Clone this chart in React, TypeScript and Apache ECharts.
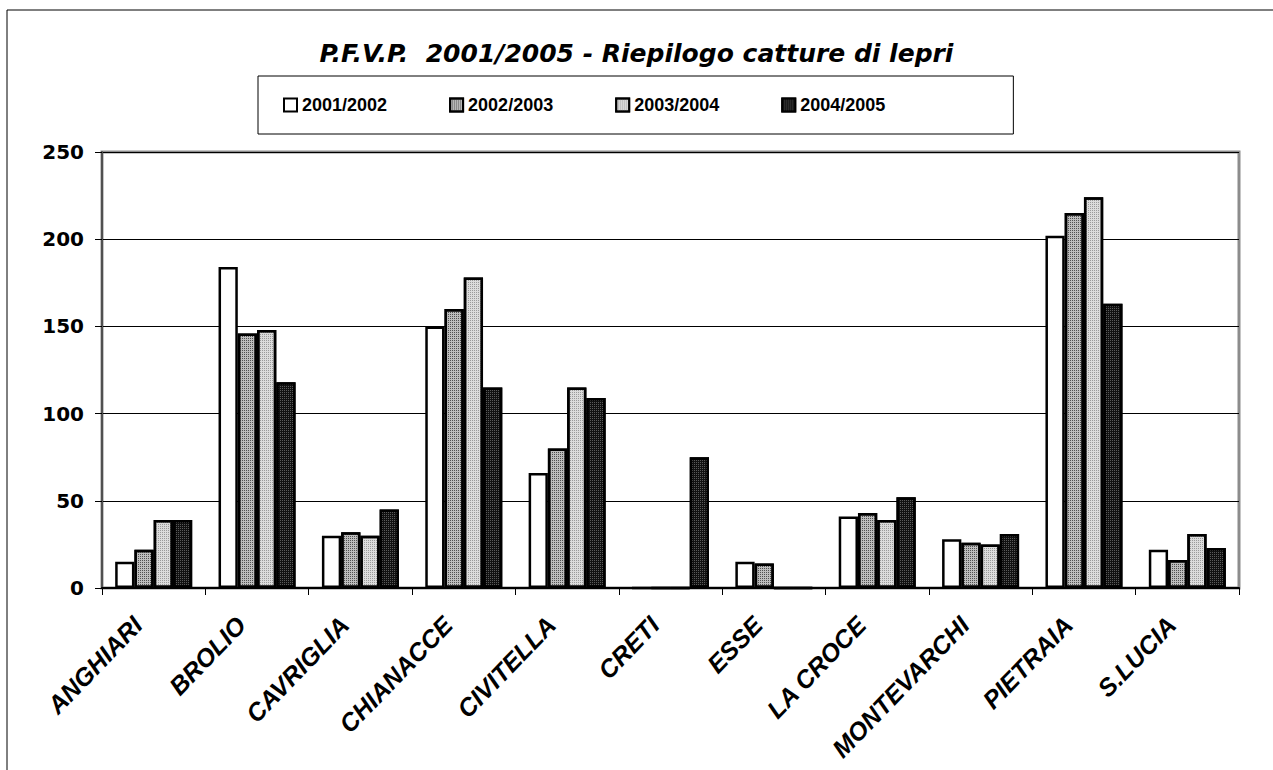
import React, { useEffect, useRef } from "react";
import * as echarts from "echarts";

const categories = [
  "ANGHIARI",
  "BROLIO",
  "CAVRIGLIA",
  "CHIANACCE",
  "CIVITELLA",
  "CRETI",
  "ESSE",
  "LA CROCE",
  "MONTEVARCHI",
  "PIETRAIA",
  "S.LUCIA",
];
const seriesNames = ["2001/2002", "2002/2003", "2003/2004", "2004/2005"];
const v2001 = [15, 184, 30, 150, 66, 0, 15, 41, 28, 202, 22];
const v2002 = [22, 146, 32, 160, 80, 0, 14, 43, 26, 215, 16];
const v2003 = [39, 148, 30, 178, 115, 0, 0, 39, 25, 224, 31];
const v2004 = [39, 118, 45, 115, 109, 75, 0, 52, 31, 163, 23];
const yTicks = [0, 50, 100, 150, 200, 250];

const titleText = "P.F.V.P.  2001/2005 - Riepilogo catture di lepri";
const FONT = "'Liberation Sans', Arial, sans-serif";
const WIDE = "'DejaVu Sans', 'Liberation Sans', sans-serif";
const fills = ["#ffffff", "#bdbdbd", "#dcdcdc", "#111111"];
const dots = [null, "#505050", "#9a9a9a", "#5a5a5a"];

export default function App() {
  const ref = useRef<HTMLDivElement>(null);
  useEffect(() => {
    if (!ref.current) return;
    const chart = echarts.init(ref.current, null, { renderer: "svg" });
    const values = [v2001, v2002, v2003, v2004];
    chart.setOption({
      animation: false,
      backgroundColor: "#ffffff",
      textStyle: { fontFamily: FONT },
      title: {
        text: titleText,
        left: "center",
        top: 36,
        textStyle: {
          fontFamily: WIDE,
          fontSize: 25,
          fontWeight: "bold",
          fontStyle: "italic",
          color: "#000",
        },
      },
      legend: {
        left: 258,
        top: 76,
        orient: "horizontal",
        padding: [20, 128, 20, 25],
        itemGap: 62,
        itemWidth: 13,
        itemHeight: 13,
        borderColor: "#000",
        borderWidth: 1,
        icon: "rect",
        textStyle: {
          fontFamily: FONT,
          fontSize: 18,
          fontWeight: "bold",
          color: "#000",
        },
        data: seriesNames,
      },
      graphic: [
        {
          type: "rect",
          silent: true,
          z: -1,
          shape: { x: 7, y: 10, width: 1300, height: 800 },
          style: { fill: "none", stroke: "#000", lineWidth: 1 },
        },
      ],
      grid: {
        left: 102,
        top: 152,
        width: 1137,
        height: 436,
        show: true,
        borderColor: "#8c8c8c",
        borderWidth: 3,
        backgroundColor: "transparent",
      },
      xAxis: {
        type: "category",
        data: categories,
        boundaryGap: true,
        axisLine: { show: true, lineStyle: { color: "#000", width: 2 } },
        axisTick: {
          show: true,
          alignWithLabel: false,
          length: 7,
          lineStyle: { color: "#000", width: 1 },
        },
        axisLabel: {
          interval: 0,
          rotate: 46,
          margin: 16,
          padding: [0, 23, 0, 0],
          fontFamily: FONT,
          fontSize: 25,
          fontWeight: "bold",
          fontStyle: "italic",
          color: "#000",
        },
        splitLine: { show: false },
      },
      yAxis: {
        type: "value",
        min: yTicks[0],
        max: yTicks[yTicks.length - 1],
        interval: 50,
        axisLine: { show: true, lineStyle: { color: "#505050", width: 2 } },
        axisTick: {
          show: true,
          inside: false,
          length: 7,
          lineStyle: { color: "#000", width: 1 },
        },
        axisLabel: {
          margin: 18,
          fontFamily: WIDE,
          fontSize: 20,
          fontWeight: "bold",
          color: "#000",
        },
        splitLine: { show: true, lineStyle: { color: "#000", width: 1 } },
      },
      series: seriesNames.map((name, i) => ({
        name,
        type: "bar",
        data: values[i],
        barGap: "0%",
        barCategoryGap: "25.5%",
        itemStyle: {
          color: fills[i],
          borderColor: "#000",
          borderWidth: 2.5,
          decal: dots[i]
            ? {
                symbol: "rect",
                symbolSize: 1,
                color: dots[i],
                dashArrayX: [1, 1],
                dashArrayY: [1, 1],
                rotation: 0,
              }
            : "none",
        },
      })),
    });
    return () => chart.dispose();
  }, []);
  return (
    <div
      ref={ref}
      style={{ position: "absolute", left: 0, top: 0, width: 1273, height: 770 }}
    />
  );
}
